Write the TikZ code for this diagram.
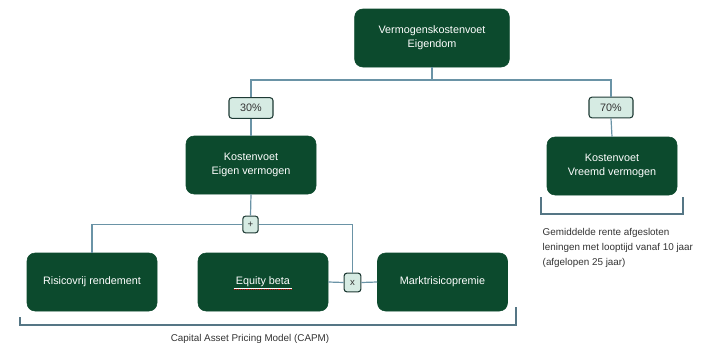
\documentclass[tikz,border=0pt]{standalone}
\usepackage{fontspec}
\setmainfont{Liberation Sans}
\definecolor{dkgreen}{HTML}{0C4A2D}
\definecolor{lightfill}{HTML}{D6EBE3}
\definecolor{lbord}{HTML}{1E3A34}
\definecolor{conn}{HTML}{6A93A6}
\definecolor{txt}{HTML}{333333}
\begin{document}
\begin{tikzpicture}[x=0.75pt,y=-0.75pt,
  bigbox/.style={draw=dkgreen,fill=dkgreen,rounded corners=6pt,text=white,align=center,
    minimum width=97.5pt,minimum height=43.5pt,inner sep=1pt,font=\fontsize{8.1}{10.5}\selectfont},
  pctbox/.style={draw=lbord,fill=lightfill,rounded corners=2.2pt,line width=0.8pt,text=txt,
    minimum width=33pt,minimum height=15.5pt,inner sep=0pt,font=\fontsize{8.1}{9}\selectfont},
  opbox/.style={draw=lbord,fill=lightfill,rounded corners=2pt,line width=0.8pt,text=txt,
    inner sep=0pt,font=\fontsize{7.2}{8}\selectfont},
  conn/.style={draw=conn,line width=0.9pt},
  brace/.style={draw=conn!80!black,line width=0.8pt},
  note/.style={text=txt,align=left,font=\fontsize{7.4}{11.2}\selectfont}]
\useasboundingbox (0,0) rectangle (715,343);
% nodes
\node[bigbox,minimum width=116pt] (top) at (432,38) {Vermogenskostenvoet\\Eigendom};
\node[pctbox] (p30) at (251,108) {30\%};
\node[pctbox] (p70) at (611,107.5) {70\%};
\node[bigbox] (ke) at (251,165) {Kostenvoet\\Eigen vermogen};
\node[bigbox] (kv) at (612,166) {Kostenvoet\\Vreemd vermogen};
\node[opbox,minimum width=11.5pt,minimum height=12.5pt] (plus) at (250.5,224.5) {+};
\node[bigbox] (rf) at (92,282) {Risicovrij rendement};
\node[bigbox] (eb) at (263,282) {Equity beta};
\node[opbox,minimum width=12.5pt,minimum height=14pt] (times) at (352.5,282.5) {x};
\node[bigbox] (mp) at (442.5,282) {Marktrisicopremie};
% connectors
\coordinate (hub) at (432,80);
\draw[conn] (top.south) -- (hub);
\draw[conn] (p30.north) |- (hub) -| (p70.north);
\draw[conn] (p30.south) -- (ke.north);
\draw[conn] (p70.south) -- (kv.north);
\draw[conn] (ke.south) -- (plus.north);
\draw[conn] (plus.west) -| (rf.north);
\draw[conn] (plus.east) -| (times.north);
\draw[conn] (eb.east) -- (times.west);
\draw[conn] (times.east) -- (mp.west);
% Equity beta spell-check underline
\draw[red!80!black,line width=0.5pt,dash pattern=on 0.8pt off 0.8pt] ([xshift=-22pt,yshift=-5.6pt]eb.center) -- ([xshift=22pt,yshift=-5.6pt]eb.center);
\draw[white,line width=0.4pt] ([xshift=-22pt,yshift=-4.7pt]eb.center) -- ([xshift=22pt,yshift=-4.7pt]eb.center);
% braces
\coordinate (b1a) at (20,317);
\coordinate (b1b) at (516,307);
\draw[brace] (b1a) -- (20,325) -- (516,325) -- (b1b);
\coordinate (b2a) at (541,197);
\coordinate (b2b) at (683,197);
\draw[brace] (b2a) -- (541,214) -- (683,214) -- (b2b);
% notes
\node[note,anchor=north] (capm) at (250,330) {Capital Asset Pricing Model (CAPM)};
\node[note,anchor=north west] (rente) at (538,224) {Gemiddelde rente afgesloten\\leningen met looptijd vanaf 10 jaar\\(afgelopen 25 jaar)};
\end{tikzpicture}
\end{document}
